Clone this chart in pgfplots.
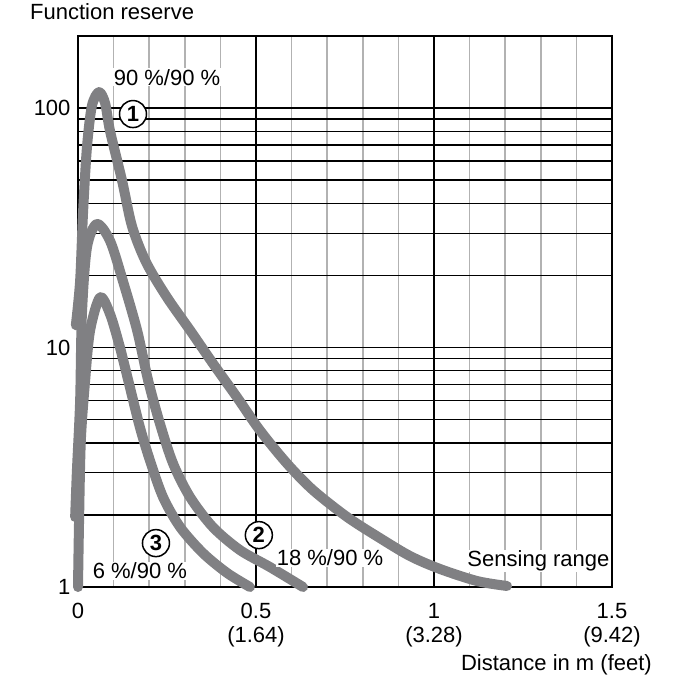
\documentclass[border=0pt]{standalone}
\usepackage{pgfplots}
\pgfplotsset{compat=1.18}
\usepackage{fontspec}
\setmainfont{Liberation Sans}
\definecolor{curve}{RGB}{128,128,131}
\definecolor{lightgrid}{RGB}{178,178,178}
\tikzset{curvestyle/.style={draw=curve, line width=10pt, smooth, tension=0.5, line cap=round, line join=round, mark=none}}
\begin{document}
\fontsize{22}{24}\selectfont
\begin{tikzpicture}[font=\fontsize{22}{24}\selectfont]
\path[use as bounding box] (-78pt,-93pt) rectangle (602pt,587pt);
\begin{axis}[
  at={(0pt,0pt)}, anchor=south west,
  scale only axis, width=534pt, height=551pt,
  xmin=0, xmax=1.5, ymode=log, ymin=1, ymax=200,
  clip=false,
  xtick={0,0.5,1,1.5},
  xticklabels={0,{0.5\\(1.64)},{1\\(3.28)},{1.5\\(9.42)}},
  minor xtick={0.1,0.2,0.3,0.4,0.6,0.7,0.8,0.9,1.1,1.2,1.3,1.4},
  ytick={1,10,100}, yticklabels={1,10,100},
  minor ytick={2,3,4,5,6,7,8,9,20,30,40,50,60,70,80,90},
  grid=both,
  major tick length=0pt, minor tick length=0pt,
  major x grid style={black, line width=1.5pt},
  minor x grid style={lightgrid, line width=1.5pt},
  major y grid style={black, line width=1.5pt},
  minor y grid style={black, line width=1.5pt},
  axis line style={black, line width=1.6pt},
  xticklabel style={align=center, font=\fontsize{22}{24}\selectfont, yshift=-9pt},
  yticklabel style={font=\fontsize{22}{24}\selectfont},
]
% curve 1: 90 %/90 %
\addplot[curvestyle] coordinates {
(-0.006,12.4) (0.006,19.0) (0.014,36.2) (0.025,68.1) (0.039,102) (0.059,116.6)
(0.076,105) (0.090,80.2) (0.124,49.6) (0.152,32.0) (0.192,22.6) (0.250,16.2)
(0.315,11.8) (0.379,8.58) (0.447,6.19) (0.511,4.51) (0.587,3.28) (0.660,2.54)
(0.756,1.96) (0.848,1.601) (0.933,1.346) (1.017,1.189) (1.121,1.059) (1.205,1.01)
};
% curve 2: 18 %/90 %
\addplot[curvestyle] coordinates {
(-0.008,1.96) (-0.003,3.07) (0.006,6.0) (0.011,13.8) (0.025,26.1) (0.053,32.8)
(0.090,27.9) (0.126,19.0) (0.166,11.8) (0.197,7.29) (0.230,4.82) (0.267,3.28)
(0.315,2.37) (0.379,1.778) (0.455,1.426) (0.539,1.212) (0.632,1.0)
};
% curve 3: 6 %/90 %
\addplot[curvestyle] coordinates {
(0,1.0) (0.003,1.90) (0.008,4.10) (0.020,7.29) (0.034,11.8) (0.062,16.2)
(0.090,13.8) (0.118,10) (0.146,6.81) (0.174,4.64) (0.202,3.38) (0.239,2.37)
(0.287,1.778) (0.351,1.386) (0.419,1.144) (0.483,1.0)
};
\node[fill=white, inner sep=1pt] at (axis cs:0.25,134.6) {90 \%/90 \%};
\node[circle, draw, line width=1.5pt, fill=white, minimum size=27pt, inner sep=0pt, font=\fontsize{22}{24}\selectfont\bfseries] at (axis cs:0.1545,94.4) {1};
\node[circle, draw, line width=1.5pt, fill=white, minimum size=27pt, inner sep=0pt, font=\fontsize{22}{24}\selectfont\bfseries] at (axis cs:0.508,1.647) {2};
\node[circle, draw, line width=1.5pt, fill=white, minimum size=27pt, inner sep=0pt, font=\fontsize{22}{24}\selectfont\bfseries] at (axis cs:0.219,1.525) {3};
\node[fill=white, inner sep=1pt] at (axis cs:0.174,1.166) {6 \%/90 \%};
\node[fill=white, inner sep=1pt] at (axis cs:0.708,1.32) {18 \%/90 \%};
\node[fill=white, inner sep=1pt, anchor=east] at (axis cs:1.496,1.283) {Sensing range};
\end{axis}
\node[anchor=base west, inner sep=0pt] at (-48pt,567pt) {Function reserve};
\node[anchor=base east, inner sep=0pt] at (574pt,-83pt) {Distance in m (feet)};
\end{tikzpicture}
\end{document}
